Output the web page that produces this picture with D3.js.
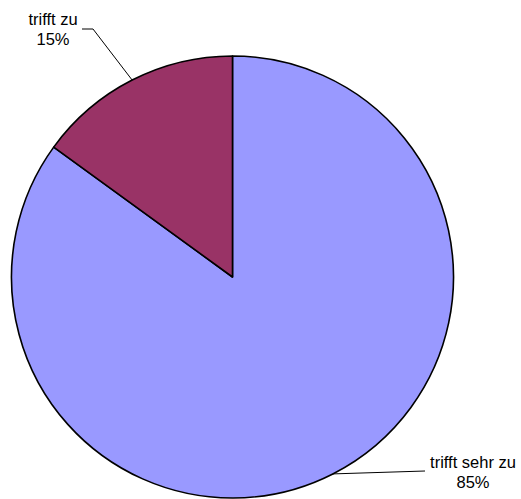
<!DOCTYPE html>
<html><head><meta charset="utf-8">
<script src="https://cdn.jsdelivr.net/npm/d3@7"></script>
<style>html,body{margin:0;padding:0;background:#fff;}svg{display:block;}</style>
</head><body>
<svg id="chart" width="521" height="499"></svg>
<script>
const categories = ["trifft sehr zu", "trifft zu"];
const values = [85, 15];
const percentLabels = ["85%", "15%"];
const colors = ["#9999FF", "#993366"];

const svg = d3.select("#chart");
const cx = 232.5, cy = 277, r = 221;
const g = svg.append("g").attr("transform", `translate(${cx},${cy})`);

const pie = d3.pie().sort(null).value(d => d).startAngle(0).endAngle(2 * Math.PI);
const arcs = pie(values);
const arc = d3.arc().innerRadius(0).outerRadius(r);
const color = d3.scaleOrdinal().domain(categories).range(colors);

g.selectAll("path.slice").data(arcs).enter().append("path")
  .attr("class", "slice")
  .attr("d", arc)
  .attr("fill", (d, i) => color(categories[i]))
  .attr("stroke", "#000")
  .attr("stroke-width", 1.6)
  .attr("stroke-linejoin", "round");

const font = "'Liberation Sans', Arial, sans-serif";
const fs = 16.5;

arcs.forEach((d, i) => {
  const mid = (d.startAngle + d.endAngle) / 2;
  const px = Math.sin(mid) * r, py = -Math.cos(mid) * r;
  let pts, tx, ty;
  if (px > 0) {
    // bottom right label
    pts = [[px, py], [425 - cx, 471 - cy]];
    tx = 473 - cx; ty = 468 - cy;
  } else {
    pts = [[px, py], [93 - cx, 29 - cy], [82 - cx, 29 - cy]];
    tx = 53 - cx; ty = 25 - cy;
  }
  g.append("path")
    .attr("d", d3.line()(pts))
    .attr("fill", "none")
    .attr("stroke", "#000")
    .attr("stroke-width", 1);
  const t = g.append("text")
    .attr("x", tx).attr("y", ty)
    .attr("text-anchor", "middle")
    .attr("font-family", font)
    .attr("font-size", fs)
    .attr("fill", "#000");
  t.append("tspan").attr("x", tx).attr("dy", 0).text(categories[i]);
  t.append("tspan").attr("x", tx).attr("dy", 20).text(percentLabels[i]);
});
</script>
</body></html>
